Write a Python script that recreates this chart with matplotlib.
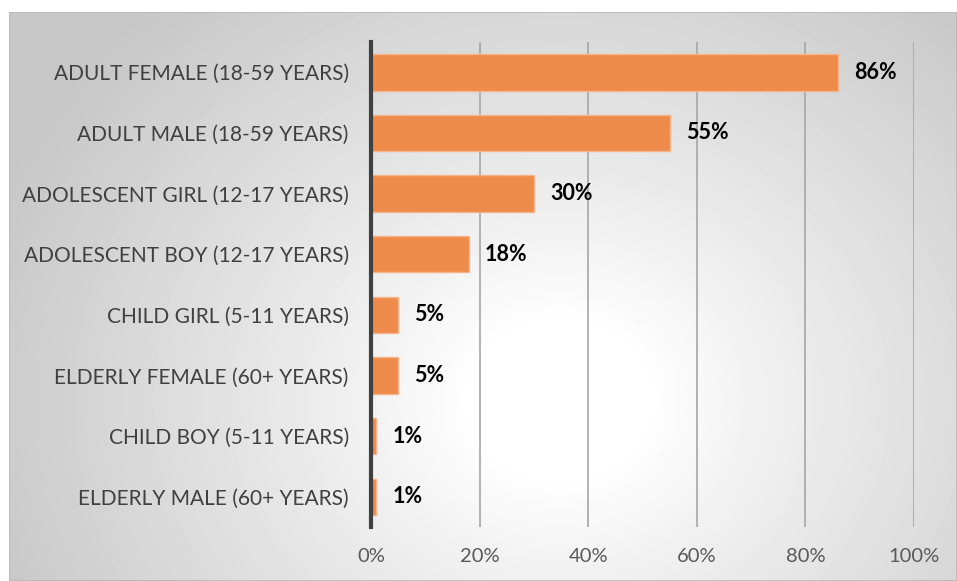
import numpy as np
import matplotlib
matplotlib.use("Agg")
import matplotlib.pyplot as plt

categories = [
    "ADULT FEMALE (18-59 YEARS)",
    "ADULT MALE (18-59 YEARS)",
    "ADOLESCENT GIRL (12-17 YEARS)",
    "ADOLESCENT BOY (12-17 YEARS)",
    "CHILD GIRL (5-11 YEARS)",
    "ELDERLY FEMALE (60+ YEARS)",
    "CHILD BOY (5-11 YEARS)",
    "ELDERLY MALE (60+ YEARS)",
]
values = [86, 55, 30, 18, 5, 5, 1, 1]
x_ticks = [0, 20, 40, 60, 80, 100]

plt.rcParams["font.family"] = ["Lato", "DejaVu Sans"]

W, H = 957, 581
fig = plt.figure(figsize=(W / 100, H / 100), dpi=100)
fig.patch.set_facecolor("white")

# radial grey-to-white backdrop of the chart frame
bx0, by1 = 9, 12
bg = fig.add_axes([bx0 / W, 0, 1 - bx0 / W, (H - by1) / H])
gx, gy = np.meshgrid(np.arange(bx0, W), np.arange(by1, H))
r = np.hypot(gx - 560, (gy - 400) * 1.15)
shade = 1.0 - 0.22 * np.clip((r - 90) / 520, 0, 1) ** 0.9
bg.imshow(shade, cmap="gray", vmin=0, vmax=1, aspect="auto",
          extent=[0, 1, 0, 1], interpolation="bilinear")
bg.set_axis_off()
bg.add_patch(plt.Rectangle((0, 0), 1, 1, transform=bg.transAxes, fill=False,
                           edgecolor="#b8b8b8", linewidth=1.2))

ax = fig.add_axes([371 / W, 1 - 527 / H, (914 - 371) / W, (527 - 42) / H])
ax.patch.set_alpha(0)

y = np.arange(len(categories))
ax.barh(y, values, height=0.6, color="#EE8A4A", edgecolor="#F5B48A",
        linewidth=1, zorder=3)
for yi, v in zip(y, values):
    ax.text(v + 3, yi, f"{v}%", va="center", ha="left", fontsize=15.5,
            fontweight="bold", color="black", zorder=4)

ax.set_xlim(0, 100)
ax.set_ylim(len(categories) - 0.5, -0.5)
ax.set_yticks(y)
ax.set_yticklabels(categories, fontsize=15, color="#404040")
ax.set_xticks(x_ticks)
ax.set_xticklabels([f"{t}%" for t in x_ticks], fontsize=14.5, color="#595959")
ax.tick_params(axis="both", length=0)
ax.tick_params(axis="y", pad=16)
ax.tick_params(axis="x", pad=15)
ax.grid(axis="x", color="#a6a6a6", linewidth=1.2, zorder=1)
ax.grid(axis="y", visible=False)
for side in ["top", "right", "bottom"]:
    ax.spines[side].set_visible(False)
ax.spines["left"].set_color("#404040")
ax.spines["left"].set_linewidth(3)
ax.spines["left"].set_zorder(5)

fig.savefig("out.png", dpi=100)
